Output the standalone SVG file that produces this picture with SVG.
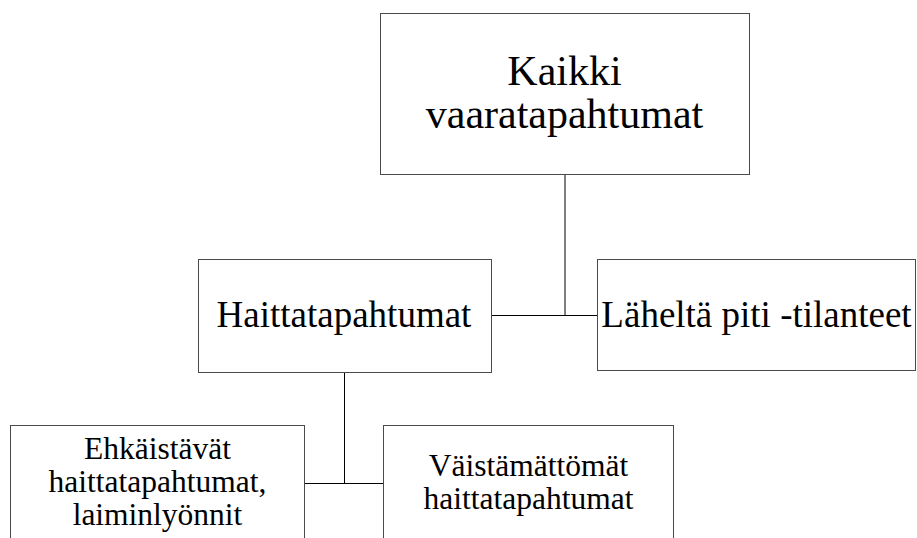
<svg xmlns="http://www.w3.org/2000/svg" width="917" height="538" viewBox="0 0 917 538">
<style>
.box{fill:#fff;stroke:#4a4a4a;stroke-width:1}
.ln{stroke:#000;stroke-width:1;fill:none}
.t1{font-size:42px}
.t2{font-size:37px}
.t3{font-size:31.5px}
</style>
<rect width="917" height="538" fill="#fff"/>
<g id="connectors">
<line class="ln" x1="565" y1="174" x2="565" y2="315.5"/>
<line class="ln" x1="491" y1="315.5" x2="597" y2="315.5"/>
<line class="ln" x1="344.5" y1="373" x2="344.5" y2="483.5"/>
<line class="ln" x1="304" y1="483.5" x2="383" y2="483.5"/>
</g>
<g font-family="'Liberation Serif', 'Times New Roman', Times, serif" text-anchor="middle" fill="#000">
<g id="node-kaikki">
<rect class="box" x="380.5" y="13.5" width="369" height="161"/>
<text class="t1" x="564.5" y="85">Kaikki</text>
<text class="t1" x="564.5" y="128">vaaratapahtumat</text>
</g>
<g id="node-haitta">
<rect class="box" x="198.5" y="259.5" width="293" height="113"/>
<text class="t2" x="344" y="327">Haittatapahtumat</text>
</g>
<g id="node-lahelta">
<rect class="box" x="597.5" y="259.5" width="318" height="111"/>
<text class="t2" x="756.5" y="327">Läheltä piti -tilanteet</text>
</g>
<g id="node-ehkaistavat">
<rect class="box" x="10.5" y="425.5" width="294" height="130"/>
<text class="t3" x="157.5" y="459">Ehkäistävät</text>
<text class="t3" x="157.5" y="492">haittatapahtumat,</text>
<text class="t3" x="157.5" y="525">laiminlyönnit</text>
</g>
<g id="node-vaistamattomat">
<rect class="box" x="383.5" y="425.5" width="290" height="130"/>
<text class="t3" x="528.5" y="476">Väistämättömät</text>
<text class="t3" x="528.5" y="509">haittatapahtumat</text>
</g>
</g>
</svg>
